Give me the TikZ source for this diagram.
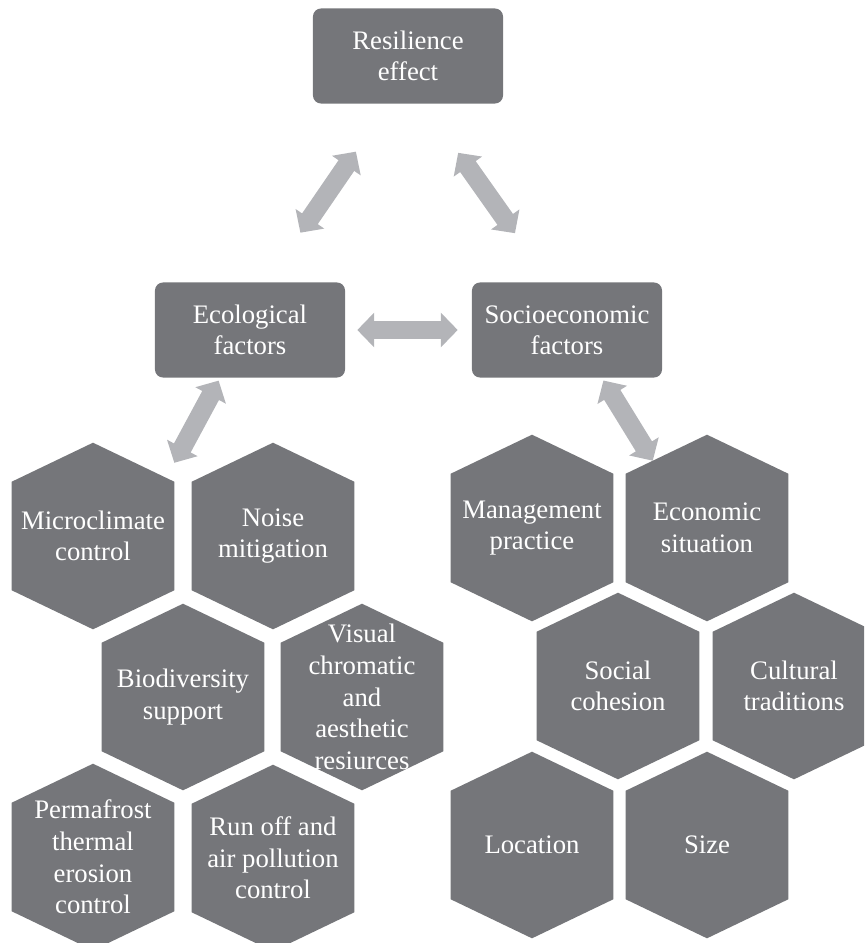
\documentclass[tikz,border=0pt]{standalone}
\usepackage{fontspec}
\setmainfont{Liberation Serif}
\usepackage{tikz}
\usetikzlibrary{arrows.meta, backgrounds, calc}
\definecolor{boxgray}{RGB}{117,118,122}
\definecolor{arrowgray}{RGB}{179,180,184}
\tikzset{
  factor/.style={
    minimum width=4.75cm,
    minimum height=2.375cm,
    align=center,
    fill=boxgray,
    text=white,
    rounded corners=0.2cm,
    inner sep=0pt,
    font=\fontsize{19}{22}\selectfont
  },
  hexcell/.style={
    minimum width=4.05cm,
    minimum height=4.65cm,
    align=center,
    text=white,
    inner sep=0pt,
    font=\fontsize{19}{22.5}\selectfont
  },
  hexfill/.style={fill=boxgray},
  biarrow/.style={
    draw=arrowgray,
    line width=13.5pt,
    {Triangle[length=12pt,width=24pt]}-{Triangle[length=12pt,width=24pt]}
  }
}

\begin{document}
\begin{tikzpicture}[x=0.025cm, y=-0.025cm]
  \useasboundingbox (0,0) rectangle (864,943);
  \clip (0,0) rectangle (864,943);
  \node (res) [factor] at (408,56) {Resilience\\effect};
  \node (eco) [factor] at (250,330) {Ecological\\factors};
  \node (soc) [factor] at (567,330) {Socioeconomic\\factors};

  % ecological cells
  \node (micro) [hexcell] at (93,536) {Microclimate\\control};
  \node (noise) [hexcell] at (273,536) {Noise\\mitigation};
  \node (biodiv) [hexcell] at (183,697) {Biodiversity\\support};
  \node (visual) [hexcell] at (362,697) {Visual\\chromatic\\and\\aesthetic\\resiurces};
  \node (perma) [hexcell] at (93,857) {Permafrost\\thermal\\erosion\\control};
  \node (runoff) [hexcell] at (273,858) {Run off and\\air pollution\\control};

  % socioeconomic cells
  \node (manage) [hexcell] at (532,528) {Management\\practice};
  \node (econ) [hexcell] at (707,528) {Economic\\situation};
  \node (social) [hexcell] at (618,686) {Social\\cohesion};
  \node (culture) [hexcell] at (794,686) {Cultural\\traditions};
  \node (location) [hexcell] at (532,845) {Location};
  \node (size) [hexcell] at (707,845) {Size};

  \begin{scope}[on background layer]
    \clip (0,0) rectangle (864,943);
    \foreach \c in {micro,noise,biodiv,visual,perma,runoff,manage,econ,social,culture,location,size}
      \fill[hexfill] (\c.north) -- ([yshift=-0.975cm]\c.north east)
        -- ([yshift=0.975cm]\c.south east) -- (\c.south)
        -- ([yshift=0.975cm]\c.south west) -- ([yshift=-0.975cm]\c.north west) -- cycle;
  \end{scope}

  \coordinate (econtip) at ($(econ.north)!0.667!([yshift=-0.975cm]econ.north west)$);
  \path
  (eco.71) edge [biarrow, shorten <=1.5cm, shorten >=1.45cm] (res.248)
  (res.288) edge [biarrow, shorten <=1.5cm, shorten >=1.5cm] (soc.110)
  (eco.east) edge [biarrow, shorten <=0.3cm, shorten >=0.35cm] (soc.west)
  (eco.238) edge [biarrow, shorten <=0.08cm] (micro.42)
  (soc.306) edge [biarrow, shorten <=0.08cm] (econtip)
  ;
\end{tikzpicture}
\end{document}
